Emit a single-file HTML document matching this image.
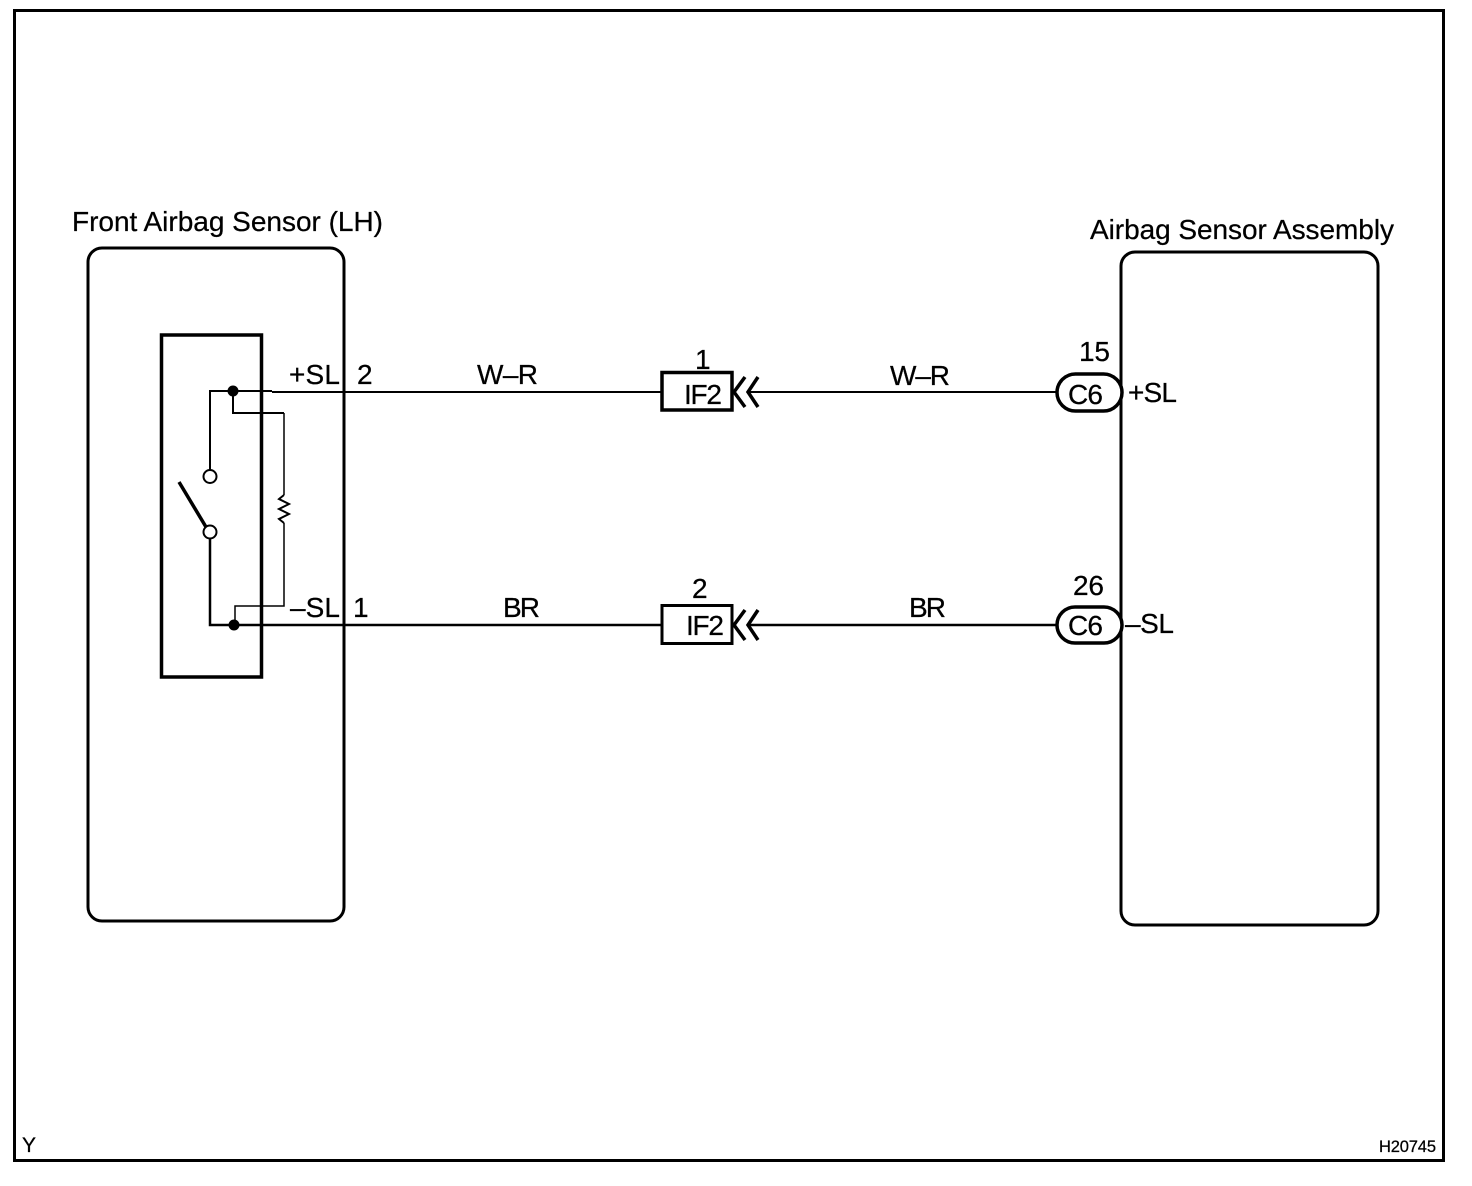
<!DOCTYPE html>
<html>
<head>
<meta charset="utf-8">
<style>
html,body{margin:0;padding:0;background:#fff;}
svg{display:block;}
text{font-family:"Liberation Sans",sans-serif;font-size:28px;fill:#000;stroke:#000;stroke-width:.25px;}
</style>
</head>
<body>
<svg width="1472" height="1186" viewBox="0 0 1472 1186" xmlns="http://www.w3.org/2000/svg">
<rect width="1472" height="1186" fill="#fff"/>
<g fill="none" stroke="#000" stroke-width="3">
  <rect x="14.5" y="10.5" width="1429" height="1150"/>
  <rect x="88" y="248" width="256" height="673" rx="14"/>
  <rect x="1121" y="252" width="257" height="673" rx="14"/>
  <rect x="161.500" y="335" width="100" height="342" stroke-width="3.500"/>
  <!-- top wire -->
  <path d="M210 470V391H272" stroke-width="2"/>
  <path d="M272 392H661" stroke-width="2"/>
  <path d="M233 391V413H284" stroke-width="2"/>
  <path d="M284 413V495" stroke-width="1.500"/>
  <path d="M284 495L279 499L289 504L279 509L289 514L279 519L284 523" stroke-width="2"/>
  <path d="M284 523V606H235V625" stroke-width="1.500"/>
  <path d="M210 539V625H661" stroke-width="2.500"/>
  <path d="M179 482L206 527" stroke-width="3.500"/>
  <circle cx="210" cy="476.500" r="6.500" stroke-width="2" fill="#fff"/>
  <circle cx="210" cy="532" r="6.500" stroke-width="2" fill="#fff"/>
  <!-- connectors -->
  <rect x="662" y="372.500" width="70" height="37.500" fill="#fff" stroke-width="3.500"/>
  <rect x="662" y="605.500" width="70" height="38" fill="#fff"/>
  <path d="M745 377L734 392L745 407M758 377L748 392L758 407" stroke-width="3.500"/>
  <path d="M745 610L734 625L745 640M758 610L748 625L758 640" stroke-width="3.500"/>
  <path d="M748 392H1056" stroke-width="2"/>
  <path d="M748 625H1056" stroke-width="2.500"/>
  <rect x="1057" y="374" width="65" height="37" rx="18.500" fill="#fff" stroke-width="3.500"/>
  <rect x="1057" y="607" width="65" height="36" rx="18" fill="#fff" stroke-width="3.500"/>
</g>
<circle cx="233" cy="391" r="5.500" fill="#000"/>
<circle cx="234" cy="625" r="5.500" fill="#000"/>
<text x="72" y="231" textLength="311">Front Airbag Sensor (LH)</text>
<text x="1090" y="239" textLength="304">Airbag Sensor Assembly</text>
<text x="289" y="384" textLength="51">+SL</text>
<text x="357" y="384">2</text>
<text x="477" y="384" textLength="61">W–R</text>
<text x="695" y="369">1</text>
<text x="684" y="404" textLength="38">IF2</text>
<text x="890" y="385" textLength="60">W–R</text>
<text x="1079" y="361" textLength="31">15</text>
<text x="1068" y="404" textLength="35">C6</text>
<text x="1128" y="402" textLength="49">+SL</text>
<text x="290" y="617" textLength="50">–SL</text>
<text x="353" y="617">1</text>
<text x="503" y="617" textLength="37">BR</text>
<text x="692" y="598">2</text>
<text x="686" y="635" textLength="38">IF2</text>
<text x="909" y="617" textLength="37">BR</text>
<text x="1073" y="595" textLength="31">26</text>
<text x="1068" y="635" textLength="35">C6</text>
<text x="1125" y="633" textLength="49">–SL</text>
<text x="22" y="1152" style="font-size:21px">Y</text>
<text x="1379" y="1152" textLength="57" style="font-size:16.500px">H20745</text>
</svg>
</body>
</html>
